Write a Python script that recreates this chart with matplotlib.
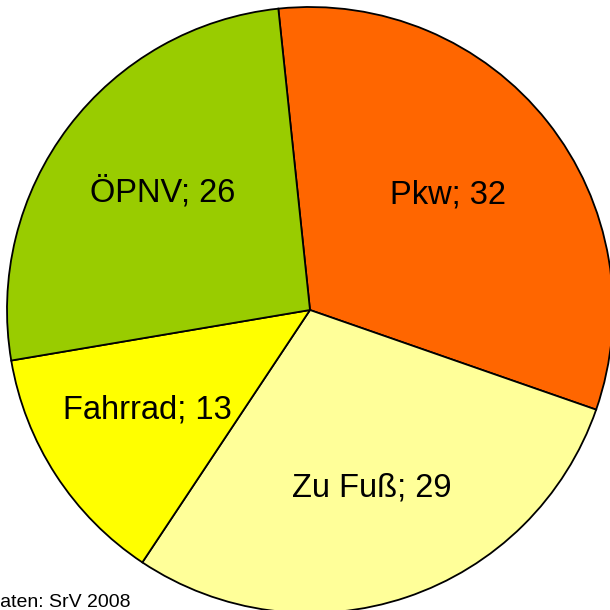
import numpy as np
import matplotlib.pyplot as plt

plt.rcParams['font.family'] = ['Liberation Sans', 'DejaVu Sans']

categories = ['Pkw', 'Zu Fuß', 'Fahrrad', 'ÖPNV']
shares = [32, 29, 13, 26]
colors = ['#FF6600', '#FFFF99', '#FFFF00', '#99CC00']
source = 'Daten: SrV 2008'

fig = plt.figure(figsize=(6.1, 6.1), dpi=100)
ax = fig.add_axes([0, 0, 1, 1])

labels = [f'{c}; {v}' for c, v in zip(categories, shares)]
wedges, texts = ax.pie(shares, labels=labels, colors=colors, startangle=96,
                       counterclock=False, labeldistance=0.6, radius=1,
                       wedgeprops=dict(edgecolor='black', linewidth=1.3),
                       textprops=dict(fontsize=23.5, color='black'))

# excel-ish label placement, slightly different distance per slice
label_dist = [0.58, 0.64, 0.64, 0.61]
for w, t, d in zip(wedges, texts, label_dist):
    ang = np.deg2rad((w.theta1 + w.theta2) / 2)
    t.set_position((d * np.cos(ang), d * np.sin(ang) + 0.02))
    t.set_ha('center')
    t.set_va('center')

# center at pixel (310, 310), radius 303 px
r = 303.0
ax.set_xlim(-310 / r, 300 / r)
ax.set_ylim(-300 / r, 310 / r)
ax.set_aspect('auto')
ax.axis('off')

fig.text(-14 / 610, 3 / 610, source, fontsize=14, ha='left', va='baseline')

fig.savefig('out.png', dpi=100)
